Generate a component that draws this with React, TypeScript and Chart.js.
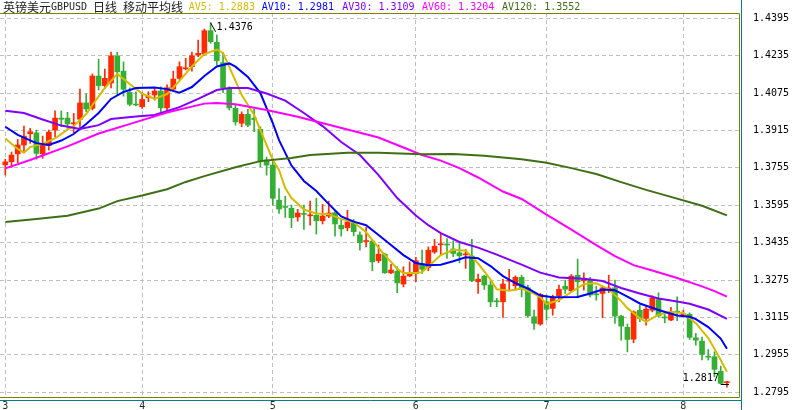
import React, { useEffect, useRef } from 'react';
import { Chart, registerables } from 'chart.js';

Chart.register(...registerables);

// ---- Daily candles (index 0 = 1 March, month ticks below) ----
const openP = [
  1.3768, 1.3781, 1.3815, 1.3853, 1.3901, 1.3905, 1.3815, 1.3850, 1.3917, 1.3968,
  1.3968, 1.3943, 1.3963, 1.4033, 1.4010, 1.4148, 1.4107, 1.4118, 1.4234, 1.4169,
  1.4078, 1.4027, 1.4017, 1.4055, 1.4067, 1.4084, 1.4012, 1.4092, 1.4138, 1.4179,
  1.4188, 1.4238, 1.4242, 1.4342, 1.4292, 1.4205, 1.4095, 1.4010, 1.3946, 1.3984,
  1.3968, 1.3920, 1.3789, 1.3767, 1.3617, 1.3590, 1.3582, 1.3545, 1.3560, 1.3550,
  1.3552, 1.3529, 1.3549, 1.3563, 1.3510, 1.3499, 1.3520, 1.3468, 1.3440, 1.3442,
  1.3358, 1.3386, 1.3306, 1.3313, 1.3258, 1.3293, 1.3304, 1.3346, 1.3329, 1.3395,
  1.3426, 1.3427, 1.3408, 1.3392, 1.3383, 1.3378, 1.3268, 1.3292, 1.3254, 1.3184,
  1.3182, 1.3270, 1.3251, 1.3287, 1.3242, 1.3118, 1.3087, 1.3182, 1.3154, 1.3208,
  1.3249, 1.3229, 1.3296, 1.3272, 1.3278, 1.3215, 1.3218, 1.3237, 1.3242, 1.3121,
  1.3073, 1.3022, 1.3146, 1.3111, 1.3146, 1.3192, 1.3115, 1.3104, 1.3140, 1.3126,
  1.3129, 1.3028, 1.3014, 1.2948, 1.2947, 1.2885, 1.2836,
];
const highP = [
  1.3792, 1.3823, 1.3877, 1.3934, 1.3924, 1.3917, 1.3891, 1.3917, 1.3999, 1.3999,
  1.3993, 1.3988, 1.4092, 1.4071, 1.4157, 1.4220, 1.4178, 1.4250, 1.4250, 1.4209,
  1.4097, 1.4080, 1.4078, 1.4081, 1.4095, 1.4102, 1.4110, 1.4169, 1.4209, 1.4224,
  1.4250, 1.4302, 1.4349, 1.4376, 1.4324, 1.4248, 1.4102, 1.4024, 1.3995, 1.4006,
  1.4011, 1.3931, 1.3801, 1.3796, 1.3667, 1.3634, 1.3596, 1.3578, 1.3596, 1.3613,
  1.3625, 1.3599, 1.3613, 1.3571, 1.3535, 1.3574, 1.3535, 1.3482, 1.3501, 1.3446,
  1.3425, 1.3390, 1.3343, 1.3332, 1.3332, 1.3353, 1.3372, 1.3403, 1.3417, 1.3449,
  1.3475, 1.3453, 1.3443, 1.3432, 1.3406, 1.3449, 1.3301, 1.3296, 1.3275, 1.3197,
  1.3278, 1.3321, 1.3293, 1.3296, 1.3254, 1.3147, 1.3218, 1.3211, 1.3211, 1.3254,
  1.3275, 1.3299, 1.3365, 1.3306, 1.3287, 1.3249, 1.3249, 1.3296, 1.3275, 1.3125,
  1.3087, 1.3143, 1.3168, 1.3164, 1.3208, 1.3221, 1.3139, 1.3158, 1.3203, 1.3146,
  1.3135, 1.3047, 1.3031, 1.2978, 1.2968, 1.2907, 1.2842,
];
const lowP = [
  1.3724, 1.3757, 1.3777, 1.3820, 1.3860, 1.3792, 1.3796, 1.3831, 1.3888, 1.3931,
  1.3924, 1.3905, 1.3924, 1.3995, 1.4003, 1.4088, 1.4095, 1.4097, 1.4067, 1.4062,
  1.4020, 1.4020, 1.4010, 1.4038, 1.4045, 1.3984, 1.3993, 1.4088, 1.4131, 1.4174,
  1.4169, 1.4231, 1.4238, 1.4288, 1.4195, 1.4077, 1.4003, 1.3938, 1.3931, 1.3931,
  1.3910, 1.3760, 1.3724, 1.3596, 1.3560, 1.3543, 1.3499, 1.3527, 1.3492, 1.3510,
  1.3472, 1.3515, 1.3542, 1.3463, 1.3463, 1.3486, 1.3464, 1.3403, 1.3417, 1.3315,
  1.3349, 1.3304, 1.3302, 1.3221, 1.3246, 1.3289, 1.3268, 1.3304, 1.3315, 1.3389,
  1.3382, 1.3368, 1.3375, 1.3349, 1.3325, 1.3268, 1.3218, 1.3235, 1.3161, 1.3161,
  1.3115, 1.3232, 1.3232, 1.3203, 1.3118, 1.3064, 1.3082, 1.3104, 1.3125, 1.3182,
  1.3218, 1.3225, 1.3199, 1.3232, 1.3203, 1.3189, 1.3114, 1.3221, 1.3090, 1.3018,
  1.2968, 1.3007, 1.3097, 1.3082, 1.3139, 1.3118, 1.3092, 1.3101, 1.3101, 1.3118,
  1.3021, 1.2997, 1.2933, 1.2933, 1.2861, 1.2830, 1.2817,
];
const closeP = [
  1.3781, 1.3810, 1.3853, 1.3891, 1.3910, 1.3817, 1.3856, 1.3908, 1.3968, 1.3963,
  1.3943, 1.3948, 1.4033, 1.4007, 1.4148, 1.4107, 1.4138, 1.4234, 1.4166, 1.4091,
  1.4027, 1.4024, 1.4048, 1.4062, 1.4084, 1.4012, 1.4098, 1.4135, 1.4188, 1.4181,
  1.4235, 1.4245, 1.4342, 1.4295, 1.4214, 1.4098, 1.4012, 1.3952, 1.3984, 1.3938,
  1.3962, 1.3781, 1.3767, 1.3625, 1.3579, 1.3586, 1.3542, 1.3562, 1.3556, 1.3552,
  1.3529, 1.3549, 1.3562, 1.3515, 1.3494, 1.3524, 1.3482, 1.3435, 1.3442, 1.3353,
  1.3386, 1.3306, 1.3318, 1.3263, 1.3292, 1.3304, 1.3358, 1.3321, 1.3403, 1.3420,
  1.3428, 1.3425, 1.3389, 1.3379, 1.3385, 1.3272, 1.3279, 1.3254, 1.3182, 1.3182,
  1.3258, 1.3272, 1.3287, 1.3239, 1.3122, 1.3090, 1.3214, 1.3150, 1.3199, 1.3236,
  1.3236, 1.3292, 1.3268, 1.3282, 1.3211, 1.3212, 1.3242, 1.3239, 1.3121, 1.3078,
  1.3021, 1.3139, 1.3111, 1.3151, 1.3199, 1.3122, 1.3113, 1.3139, 1.3138, 1.3128,
  1.3030, 1.3018, 1.2957, 1.2945, 1.2893, 1.2833, 1.2838,
];

// ---- Axis ticks ----
const monthTickIdx = [0, 22, 43, 66, 87, 109];
const monthLabels = ['3', '4', '5', '6', '7', '8'];
const priceTicks = [1.4395, 1.4235, 1.4075, 1.3915, 1.3755, 1.3595, 1.3435, 1.3275, 1.3115, 1.2955, 1.2795];

// ---- Moving averages as [candle index, value] ----
const av5Pts = [
  [0, 1.3881], [2, 1.3836], [3, 1.3820], [4, 1.3844], [6, 1.3859], [8, 1.3881], [10, 1.3919], [11, 1.3934],
  [13, 1.3985], [14, 1.4024], [16, 1.4097], [18, 1.4157], [20, 1.4114], [22, 1.4073], [24, 1.4050], [26, 1.4071],
  [28, 1.4127], [30, 1.4189], [32, 1.4242], [34, 1.4261], [35, 1.4247], [36, 1.4187], [38, 1.4067], [40, 1.3981],
  [41, 1.3917], [43, 1.3789], [44, 1.3746], [45, 1.3669], [46, 1.3626], [48, 1.3577], [50, 1.3560], [52, 1.3557],
  [54, 1.3536], [56, 1.3523], [58, 1.3480], [59, 1.3446], [61, 1.3382], [63, 1.3324], [64, 1.3305], [66, 1.3305],
  [67, 1.3309], [68, 1.3333], [70, 1.3382], [72, 1.3405], [74, 1.3401], [76, 1.3346], [78, 1.3277], [79, 1.3236],
  [81, 1.3230], [83, 1.3239], [85, 1.3217], [86, 1.3201], [87, 1.3172], [89, 1.3190], [91, 1.3224], [93, 1.3258],
  [95, 1.3261], [97, 1.3236], [99, 1.3185], [100, 1.3155], [102, 1.3112], [103, 1.3096], [105, 1.3127], [107, 1.3139],
  [109, 1.3134], [111, 1.3091], [113, 1.3027], [115, 1.2933], [116, 1.2883],
];
const av10Pts = [
  [0, 1.3931], [2, 1.3896], [5, 1.3861], [7, 1.3853], [9, 1.3872], [11, 1.3900], [13, 1.3943], [15, 1.3990],
  [17, 1.4050], [19, 1.4080], [21, 1.4097], [24, 1.4099], [26, 1.4092], [28, 1.4077], [30, 1.4101], [32, 1.4148],
  [34, 1.4189], [36, 1.4202], [37, 1.4188], [39, 1.4144], [41, 1.4075], [43, 1.3947], [44, 1.3874], [46, 1.3765],
  [48, 1.3699], [50, 1.3656], [52, 1.3600], [54, 1.3547], [56, 1.3525], [58, 1.3510], [60, 1.3468], [62, 1.3425],
  [64, 1.3382], [66, 1.3348], [68, 1.3339], [70, 1.3341], [72, 1.3356], [74, 1.3373], [76, 1.3369], [78, 1.3335],
  [80, 1.3292], [82, 1.3262], [84, 1.3239], [86, 1.3209], [88, 1.3202], [92, 1.3203], [94, 1.3218], [96, 1.3235],
  [98, 1.3232], [100, 1.3204], [102, 1.3175], [105, 1.3147], [108, 1.3124], [110, 1.3118], [111, 1.3108],
  [113, 1.3074], [115, 1.3025], [116, 1.2981],
];
const av30Pts = [
  [0, 1.4000], [3, 1.3990], [6, 1.3962], [9, 1.3936], [12, 1.3922], [15, 1.3938], [17, 1.3964], [21, 1.3975],
  [24, 1.3981], [28, 1.4015], [31, 1.4050], [34, 1.4088], [36, 1.4097], [39, 1.4097], [42, 1.4073], [45, 1.4043],
  [48, 1.3990], [51, 1.3934], [54, 1.3866], [57, 1.3810], [60, 1.3724], [63, 1.3626], [66, 1.3551], [68, 1.3510],
  [70, 1.3476], [73, 1.3438], [76, 1.3414], [79, 1.3384], [83, 1.3341], [86, 1.3307], [89, 1.3286], [93, 1.3281],
  [96, 1.3271], [99, 1.3241], [102, 1.3218], [105, 1.3196], [108, 1.3183], [110, 1.3174], [113, 1.3149], [116, 1.3109],
];
const av60Pts = [
  [0, 1.3753], [4, 1.3789], [10, 1.3847], [15, 1.3902], [21, 1.3951], [26, 1.3992], [32, 1.4030], [34, 1.4033],
  [37, 1.4027], [42, 1.4003], [47, 1.3974], [60, 1.3885], [67, 1.3810], [70, 1.3786], [73, 1.3754], [76, 1.3714],
  [80, 1.3654], [83, 1.3622], [87, 1.3555], [91, 1.3491], [95, 1.3425], [98, 1.3378], [101, 1.3339], [104, 1.3316],
  [108, 1.3284], [112, 1.3248], [114, 1.3228], [116, 1.3204],
];
const av120Pts = [
  [0, 1.3524], [5, 1.3536], [10, 1.3550], [15, 1.3581], [18, 1.3613], [22, 1.3637], [26, 1.3664], [29, 1.3695],
  [32, 1.3720], [37, 1.3758], [41, 1.3784], [46, 1.3797], [49, 1.3810], [55, 1.3820], [60, 1.3820], [67, 1.3813],
  [72, 1.3814], [77, 1.3807], [83, 1.3792], [87, 1.3777], [91, 1.3754], [95, 1.3729], [99, 1.3694], [103, 1.3661],
  [107, 1.3631], [112, 1.3593], [116, 1.3552],
];

// title pieces: [text, isCJK]
const titleParts: [string, boolean][] = [
  ['英镑美元', true],
  ['GBPUSD ', false],
  ['日线', true],
  [' ', false],
  ['移动平均线', true],
];
const maNames = ['AV5', 'AV10', 'AV30', 'AV60', 'AV120'];

const UP_COLOR = '#ff2a00';
const DOWN_COLOR = '#33b033';
const MA_COLORS = ['#d4bc00', '#0000ff', '#8000ff', '#ff00ff', '#3f6f14'];
const MA_LABEL_X = [188.7, 261.7, 342.3, 422, 502];
const MONO = '"DejaVu Sans Mono", monospace';
const CJK = '"Noto Sans CJK SC"';

export default function App() {
  const ref = useRef<HTMLCanvasElement | null>(null);

  useEffect(() => {
    const canvas = ref.current;
    if (!canvas) return;
    const candleColors = openP.map((o, i) => (closeP[i] >= o ? UP_COLOR : DOWN_COLOR));
    const maSets = [av5Pts, av10Pts, av30Pts, av60Pts, av120Pts];

    const decor = {
      id: 'decor',
      afterDraw(chart: any) {
        const { ctx, chartArea: a, scales } = chart;
        const xs = scales.x;
        const ys = scales.y;
        const r = Math.round(a.right);
        const b = Math.round(a.bottom);
        const t = Math.round(a.top);
        ctx.save();
        ctx.lineWidth = 1;
        ctx.setLineDash([]);
        ctx.strokeStyle = '#808000';
        ctx.beginPath();
        ctx.moveTo(0, t + 0.5);
        ctx.lineTo(r + 0.5, t + 0.5);
        ctx.lineTo(r + 0.5, b + 0.5);
        ctx.lineTo(0, b + 0.5);
        ctx.stroke();
        ctx.strokeStyle = '#008080';
        ctx.beginPath();
        ctx.moveTo(r + 2.5, 0);
        ctx.lineTo(r + 2.5, chart.height);
        ctx.moveTo(0, b + 3.5);
        ctx.lineTo(r + 2.5, b + 3.5);
        ctx.stroke();

        // title: CJK glyphs 12px wide, latin glyphs 6px wide
        ctx.textBaseline = 'middle';
        ctx.textAlign = 'left';
        ctx.fillStyle = '#222222';
        let tx = 3;
        titleParts.forEach(([txt, cjk]) => {
          ctx.font = cjk ? '12px ' + CJK : '10px ' + MONO;
          ctx.fillText(txt, tx, 7);
          tx += txt.length * (cjk ? 12 : 6);
        });
        ctx.font = '10px ' + MONO;
        maNames.forEach((name, k) => {
          const pts = maSets[k];
          ctx.fillStyle = MA_COLORS[k];
          ctx.fillText(name + ': ' + pts[pts.length - 1][1].toFixed(4), MA_LABEL_X[k], 7);
        });

        // high marker
        const hiVal = Math.max(...highP);
        const hiIdx = highP.indexOf(hiVal);
        const hx = xs.getPixelForValue(hiIdx);
        const hy = ys.getPixelForValue(hiVal);
        ctx.strokeStyle = '#000000';
        ctx.beginPath();
        ctx.moveTo(hx, hy);
        ctx.lineTo(hx + 5, hy + 9);
        ctx.stroke();
        ctx.fillStyle = '#000000';
        ctx.fillText(hiVal.toFixed(4), hx + 6, hy + 5);

        // low marker
        const loVal = Math.min(...lowP);
        const loIdx = lowP.indexOf(loVal);
        const lx = xs.getPixelForValue(loIdx);
        const ly = Math.round(ys.getPixelForValue(loVal)) - 2.5;
        ctx.beginPath();
        ctx.moveTo(lx - 6, ly);
        ctx.lineTo(lx + 2, ly);
        ctx.stroke();
        ctx.textAlign = 'right';
        ctx.fillText(loVal.toFixed(4), lx - 8, ly - 6);
        ctx.restore();
      },
    };

    const chart = new Chart(canvas, {
      type: 'bar',
      data: {
        datasets: [
          ...maSets.map((pts, k) => ({
            type: 'line' as const,
            data: pts.map(([x, y]) => ({ x, y })),
            borderColor: MA_COLORS[k],
            backgroundColor: MA_COLORS[k],
            borderWidth: 2,
            pointRadius: 0,
            tension: 0,
            fill: false,
            order: 1 + (4 - k),
          })),
          {
            type: 'bar' as const,
            data: openP.map((o, i) => ({ x: i, y: [lowP[i], highP[i]] })),
            backgroundColor: candleColors,
            barThickness: 1,
            grouped: false,
            borderWidth: 0,
            borderSkipped: false,
            order: 11,
          },
          {
            type: 'bar' as const,
            data: openP.map((o, i) => ({ x: i, y: [o, closeP[i]] })),
            backgroundColor: candleColors,
            barThickness: 5,
            minBarLength: 1,
            grouped: false,
            borderWidth: 0,
            borderSkipped: false,
            order: 10,
          },
        ] as any,
      },
      options: {
        responsive: false,
        animation: false,
        devicePixelRatio: 1,
        layout: { padding: { top: 13, left: 0, right: 0, bottom: 0 } },
        plugins: {
          legend: { display: false },
          tooltip: { enabled: false },
          title: { display: false },
        },
        scales: {
          x: {
            type: 'linear',
            min: -0.852,
            max: 117.94,
            offset: false,
            grid: {
              offset: false,
              color: '#c0c0c0',
              lineWidth: 1,
              drawTicks: false,
            },
            border: { display: false, dash: [4, 3] },
            afterBuildTicks: (s: any) => {
              s.ticks = monthTickIdx.map((v) => ({ value: v }));
            },
            afterFit: (s: any) => {
              s.height = 13;
              s.paddingLeft = 0;
              s.paddingRight = 0;
            },
            ticks: {
              autoSkip: false,
              maxRotation: 0,
              padding: 3,
              color: '#1c2833',
              font: { family: MONO, size: 10 },
              callback: (_v: any, idx: number) => monthLabels[idx],
            },
          },
          y: {
            type: 'linear',
            position: 'right',
            min: 1.27749,
            max: 1.44177,
            beginAtZero: false,
            grid: {
              color: '#c0c0c0',
              lineWidth: 1,
              drawTicks: false,
            },
            border: { display: false, dash: [4, 3] },
            afterBuildTicks: (s: any) => {
              s.ticks = priceTicks.map((v) => ({ value: v }));
            },
            afterFit: (s: any) => {
              s.width = 58;
              s.paddingTop = 0;
              s.paddingBottom = 0;
            },
            ticks: {
              autoSkip: false,
              padding: 14,
              color: '#000000',
              font: { family: MONO, size: 10 },
              callback: (v: any) => Number(v).toFixed(4),
            },
          },
        },
      } as any,
      plugins: [decor],
    });

    return () => chart.destroy();
  }, []);

  return (
    <div style={{ position: 'fixed', left: 0, top: 0, width: 797, height: 410, background: '#ffffff' }}>
      <canvas ref={ref} width={797} height={410} style={{ display: 'block' }} />
    </div>
  );
}
